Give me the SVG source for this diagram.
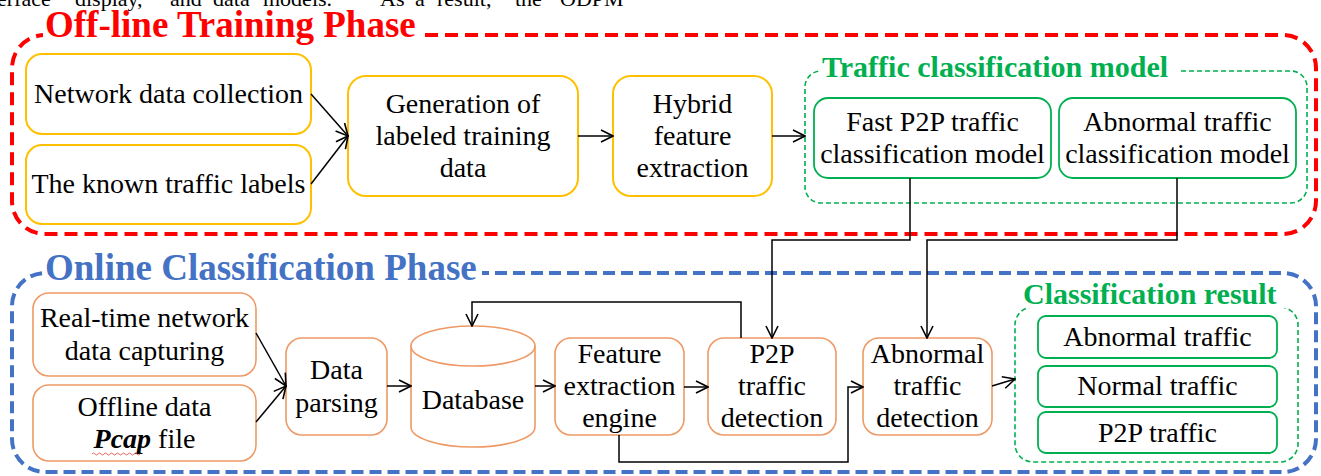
<svg xmlns="http://www.w3.org/2000/svg" width="1321" height="476" viewBox="0 0 1321 476">
<style>
.t{font-family:"Liberation Serif","Times New Roman",serif;font-size:28px;fill:#000;text-anchor:middle}
.top{font-family:"Liberation Serif","Times New Roman",serif;font-size:22px;fill:#000}
.ttl{font-family:"Liberation Serif","Times New Roman",serif;font-weight:bold}
.yb{fill:#fff;stroke:#FFC000;stroke-width:2}
.ob{fill:#fff;stroke:#EE9966;stroke-width:1.6}
.gb{fill:#fff;stroke:#00B050;stroke-width:1.8}
.gd{fill:none;stroke:#00B050;stroke-width:1.6;stroke-dasharray:5 3}
.c{fill:none;stroke:#000;stroke-width:1.5}
.a{marker-end:url(#ah)}
</style>
<defs>
<marker id="ah" markerUnits="userSpaceOnUse" markerWidth="14" markerHeight="14" viewBox="0 0 14 14" refX="13" refY="7" orient="auto">
<path d="M1,1 L13,7 L1,13" fill="none" stroke="#000" stroke-width="1.6"/>
</marker>
</defs>
<rect width="1321" height="476" fill="#fff"/>
<g id="paper-text" class="top">
<text x="-3" y="6">erface</text><text x="75" y="6">display,</text><text x="170" y="6">and</text><text x="213" y="6">data</text><text x="263" y="6">models.</text><text x="380" y="6">As</text><text x="415" y="6">a</text><text x="437" y="6">result,</text><text x="515" y="6">the</text><text x="560" y="6">ODPM</text>
</g>
<g id="offline-phase">
<rect x="12" y="35" width="1304" height="199" rx="33" fill="none" stroke="#FF0000" stroke-width="4" stroke-dasharray="13 7"/>
<rect x="43" y="12" width="381" height="30" fill="#fff"/>
<text class="ttl" x="45" y="37" font-size="37" fill="#FF0000">Off-line Training Phase</text>
</g>
<g id="online-phase">
<rect x="12" y="273" width="1304" height="199" rx="33" fill="none" stroke="#4472C4" stroke-width="4" stroke-dasharray="12 6"/>
<rect x="44" y="252" width="438" height="30" fill="#fff"/>
<text class="ttl" x="45" y="280" font-size="37" fill="#4472C4">Online Classification Phase</text>
</g>
<g id="traffic-model-group">
<rect class="gd" x="805" y="71" width="502" height="132" rx="16"/>
<rect x="820" y="52" width="358" height="26" fill="#fff"/>
<text class="ttl" x="822" y="77" font-size="30" fill="#00B050">Traffic classification model</text>
</g>
<g id="class-result-group">
<rect class="gd" x="1015" y="307" width="283" height="155" rx="18"/>
<rect x="1020" y="282" width="268" height="26" fill="#fff"/>
<text class="ttl" x="1023" y="304" font-size="30" fill="#00B050">Classification result</text>
</g>
<g id="n-netcollect"><rect class="yb" x="26" y="54" width="285" height="80" rx="16"/><text class="t" x="168.5" y="103">Network data collection</text></g>
<g id="n-labels"><rect class="yb" x="26" y="145" width="285" height="79" rx="16"/><text class="t" x="168.5" y="193">The known traffic labels</text></g>
<g id="n-generation"><rect class="yb" x="348" y="76" width="230" height="120" rx="18"/><text class="t" x="463" y="113">Generation of</text><text class="t" x="463" y="145">labeled training</text><text class="t" x="463" y="177">data</text></g>
<g id="n-hybrid"><rect class="yb" x="613" y="76" width="159" height="120" rx="18"/><text class="t" x="692.5" y="113">Hybrid</text><text class="t" x="692.5" y="145">feature</text><text class="t" x="692.5" y="177">extraction</text></g>
<g id="n-fastp2p"><rect class="gb" x="814" y="98" width="237" height="80" rx="14"/><text class="t" x="932.5" y="131">Fast P2P traffic</text><text class="t" x="932.5" y="163">classification model</text></g>
<g id="n-abnmodel"><rect class="gb" x="1059" y="98" width="237" height="80" rx="14"/><text class="t" x="1177.5" y="131">Abnormal traffic</text><text class="t" x="1177.5" y="163">classification model</text></g>
<g id="n-realtime"><rect class="ob" x="33" y="293" width="223" height="83" rx="16"/><text class="t" x="144.5" y="327">Real-time network</text><text class="t" x="144.5" y="360">data capturing</text></g>
<g id="n-offline"><rect class="ob" x="33" y="385" width="223" height="76" rx="16"/><text class="t" x="144.5" y="416">Offline data</text><text class="t" x="144.5" y="448"><tspan font-weight="bold" font-style="italic">Pcap</tspan> file</text><path d="M92,454 q1.5,-2 3,0 t3,0 t3,0 t3,0 t3,0 t3,0 t3,0 t3,0 t3,0 t3,0 t3,0 t3,0 t3,0 t3,0 t3,0 t3,0" fill="none" stroke="#E04040" stroke-width="0.8"/></g>
<g id="n-parsing"><rect class="ob" x="286" y="338" width="101" height="97" rx="16"/><text class="t" x="336.5" y="379">Data</text><text class="t" x="336.5" y="412">parsing</text></g>
<g id="n-database"><path class="ob" d="M411,346 L411,427 A62,20 0 0 0 535,427 L535,346"/><ellipse class="ob" cx="473" cy="346" rx="62" ry="20"/><text class="t" x="473" y="409">Database</text></g>
<g id="n-feature"><rect class="ob" x="555" y="338" width="129" height="97" rx="16"/><text class="t" x="619.5" y="363">Feature</text><text class="t" x="619.5" y="395">extraction</text><text class="t" x="619.5" y="427">engine</text></g>
<g id="n-p2pdet"><rect class="ob" x="708" y="338" width="128" height="97" rx="16"/><text class="t" x="772" y="363">P2P</text><text class="t" x="772" y="395">traffic</text><text class="t" x="772" y="427">detection</text></g>
<g id="n-abndet"><rect class="ob" x="863" y="338" width="129" height="97" rx="16"/><text class="t" x="927.5" y="363">Abnormal</text><text class="t" x="927.5" y="395">traffic</text><text class="t" x="927.5" y="427">detection</text></g>
<g id="n-res-abn"><rect class="gb" x="1038" y="316" width="239" height="42" rx="8"/><text class="t" x="1157.5" y="346">Abnormal traffic</text></g>
<g id="n-res-norm"><rect class="gb" x="1038" y="366" width="239" height="41" rx="8"/><text class="t" x="1157.5" y="395">Normal traffic</text></g>
<g id="n-res-p2p"><rect class="gb" x="1038" y="412" width="239" height="41" rx="8"/><text class="t" x="1157.5" y="442">P2P traffic</text></g>
<g id="connectors">
<path class="c a" d="M311,94 L348,136"/>
<path class="c a" d="M311,184 L348,136"/>
<path class="c a" d="M578,136 L613,136"/>
<path class="c a" d="M772,136 L805,136"/>
<path class="c a" d="M910,178 L910,240 L772,240 L772,338"/>
<path class="c a" d="M1177,178 L1177,240 L927,240 L927,338"/>
<path class="c a" d="M256,333 L286,386"/>
<path class="c a" d="M256,422 L286,386"/>
<path class="c a" d="M387,386 L411,386"/>
<path class="c a" d="M535,386 L555,386"/>
<path class="c a" d="M684,387 L708,387"/>
<path class="c a" d="M741,338 L741,302 L472,302 L472,326"/>
<path class="c a" d="M619,435 L619,462 L848,462 L848,387 L863,387"/>
<path class="c a" d="M992,386 L1015,379"/>
</g>
</svg>
